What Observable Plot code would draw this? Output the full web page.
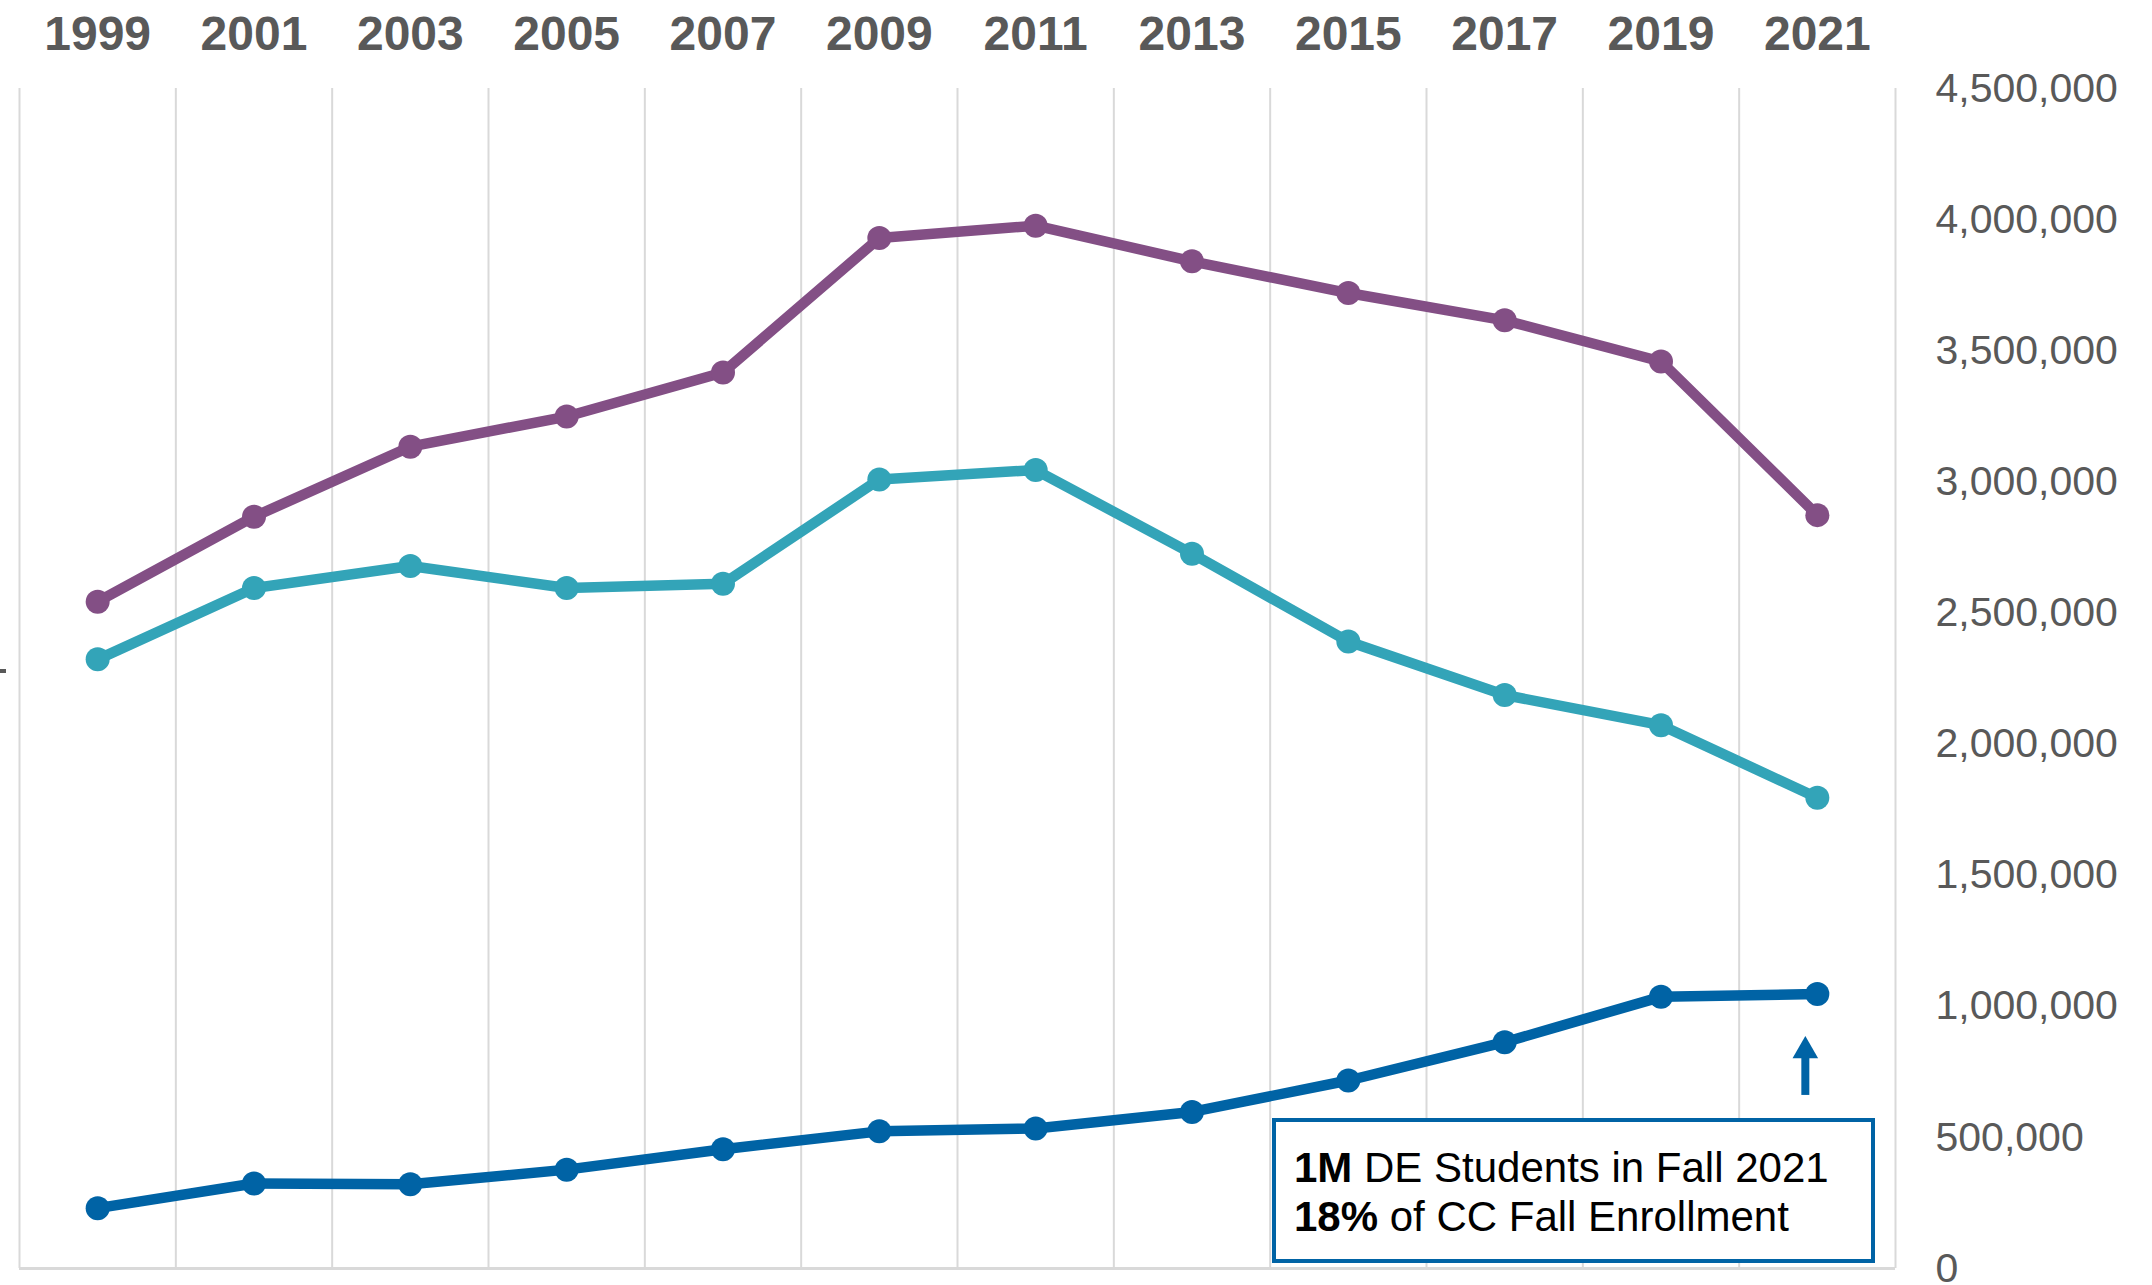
<!DOCTYPE html>
<html>
<head>
<meta charset="utf-8">
<script src="https://cdn.jsdelivr.net/npm/d3@7"></script>
<script src="https://cdn.jsdelivr.net/npm/@observablehq/plot@0.6"></script>
<style>
  body { margin: 0; background: #fff; }
  #wrap { position: relative; width: 2152px; height: 1285px; overflow: hidden;
          font-family: "Liberation Sans", Arial, sans-serif; }
  #note { position: absolute; left: 1272px; top: 1118px; width: 603px; height: 145px; box-sizing: border-box;
          border: 4px solid #0063a5; background: #fff; padding: 21px 0 0 18px;
          font-size: 42px; line-height: 49px; color: #000; }
  #note b { font-weight: bold; }
  #dash { position: absolute; left: 0; top: 669px; width: 6px; height: 4px; background: #595959; }
</style>
</head>
<body>
<div id="wrap">
  <div id="chart"></div>
  <div id="dash"></div>
  <div id="note"><b>1M</b> DE Students in Fall 2021<br><b>18%</b> of CC Fall Enrollment</div>
</div>
<script>
const years = [1999, 2001, 2003, 2005, 2007, 2009, 2011, 2013, 2015, 2017, 2019, 2021];
const purpleSeries = [2543000, 2867000, 3134000, 3249000, 3417000, 3930000, 3977000, 3841000, 3720000, 3616000, 3459000, 2873000];
const tealSeries   = [2323000, 2595000, 2679000, 2595000, 2611000, 3009000, 3045000, 2726000, 2391000, 2187000, 2072000, 1795000];
const deStudents   = [230000, 324000, 321000, 377000, 455000, 523000, 534000, 597000, 717000, 863000, 1036000, 1047000];
const seriesNames  = ["Purple", "Teal", "DE Students"];
const seriesColors = ["#834f85", "#33a4b8", "#0063a5"];
const yTicks = [0, 500000, 1000000, 1500000, 2000000, 2500000, 3000000, 3500000, 4000000, 4500000];
const gridYears = [1998, 2000, 2002, 2004, 2006, 2008, 2010, 2012, 2014, 2016, 2018, 2020, 2022];
const arrowShaft = [{year: 2021, from: 660000, to: 805000}];
const arrowHead = [{year: 2021, value: 830000}];

const allSeries = [purpleSeries, tealSeries, deStudents];
const rows = [];
allSeries.forEach((vals, i) => vals.forEach((v, j) => rows.push({series: seriesNames[i], year: years[j], value: v})));

const chart = Plot.plot({
  width: 2152,
  height: 1285,
  marginLeft: 19,
  marginRight: 257,
  marginTop: 88,
  marginBottom: 17,
  style: { fontFamily: '"Liberation Sans", Arial, sans-serif', background: "white" },
  x: { type: "linear", domain: [1998, 2022] },
  y: { domain: [0, 4500000] },
  color: { domain: seriesNames, range: seriesColors },
  marks: [
    Plot.gridX(gridYears, { stroke: "#d9d9d9", strokeOpacity: 1, strokeWidth: 2 }),
    Plot.ruleY([0], { stroke: "#d9d9d9", strokeWidth: 3 }),
    Plot.axisX(years, { anchor: "top", tickSize: 0, tickPadding: 39, tickFormat: d => String(d),
      fontSize: 48, fontWeight: "bold", fill: "#595959", label: null }),
    Plot.axisY(yTicks, { anchor: "right", tickSize: 0, tickPadding: 40, textAnchor: "start",
      tickFormat: d3.format(","), fontSize: 41, fill: "#595959", label: null }),
    Plot.line(rows, { x: "year", y: "value", z: "series", stroke: "series", strokeWidth: 10.5, strokeLinejoin: "round" }),
    Plot.dot(rows, { x: "year", y: "value", fill: "series", r: 12 }),
    Plot.ruleX(arrowShaft, { x: "year", y1: "from", y2: "to", dx: -12, stroke: "#0063a5", strokeWidth: 8 }),
    Plot.dot(arrowHead, { x: "year", y: "value", dx: -12, symbol: "triangle", r: 9.5, fill: "#0063a5" })
  ]
});
document.getElementById("chart").appendChild(chart);
</script>
</body>
</html>
